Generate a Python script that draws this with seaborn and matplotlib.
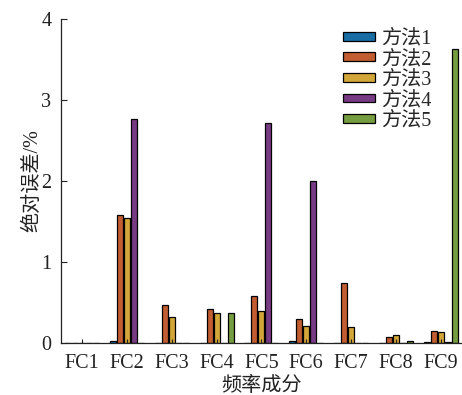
import matplotlib
matplotlib.use("Agg")
import matplotlib.pyplot as plt
import seaborn as sns
import pandas as pd

categories = ["FC1", "FC2", "FC3", "FC4", "FC5", "FC6", "FC7", "FC8", "FC9"]
methods = ["方法1", "方法2", "方法3", "方法4", "方法5"]
m1 = [0.0, 0.02, 0.0, 0.0, 0.0, 0.025, 0.0, 0.0, 0.015]
m2 = [0.0, 1.58, 0.465, 0.42, 0.575, 0.30, 0.74, 0.078, 0.15]
m3 = [0.0, 1.54, 0.325, 0.37, 0.395, 0.215, 0.20, 0.095, 0.13]
m4 = [0.0, 2.77, 0.0, 0.0, 2.72, 2.0, 0.0, 0.0, 0.008]
m5 = [0.0, 0.0, 0.0, 0.375, 0.0, 0.0, 0.0, 0.025, 3.63]
colors = ["#0072BD", "#D95319", "#EDB120", "#7E2F8E", "#77AC30"]
yticks = [0, 1, 2, 3, 4]

rows = []
for name, vals in zip(methods, [m1, m2, m3, m4, m5]):
    for c, v in zip(categories, vals):
        rows.append({"cat": c, "method": name, "val": v})
df = pd.DataFrame(rows)

sns.set_style("ticks")
fam = ["Liberation Serif", "Noto Sans CJK SC"]
plt.rcParams["font.family"] = fam
fs = 14.5

fig = plt.figure(figsize=(4.62, 3.95), dpi=100)
ax = fig.add_axes([61/462, (395-343)/395, 400/462, 324/395])
sns.barplot(data=df, x="cat", y="val", hue="method", order=categories,
            hue_order=methods, palette=colors, width=0.78, gap=0.15,
            edgecolor="black", linewidth=0.9, ax=ax, legend=True)
ax.set_axisbelow(False)
ax.set_xlim(-0.468, 8.45)
ax.set_ylim(0, 4)
ax.set_yticks(yticks)
ax.set_yticklabels([str(t) for t in yticks], fontsize=fs)
ax.set_xticks(range(len(categories)))
ax.set_xticklabels(categories, fontsize=fs)
ax.tick_params(axis="both", direction="in", width=0.8, colors="#222222", labelcolor="#222222")
ax.tick_params(axis="y", length=4.5, pad=7)
ax.tick_params(axis="x", length=3, pad=8)
for s in ["top", "right"]:
    ax.spines[s].set_visible(False)
for s in ["left", "bottom"]:
    ax.spines[s].set_linewidth(0.9)
    ax.spines[s].set_color("#222222")
ax.set_xlabel("频率成分", fontsize=fs, color="#222222", labelpad=3)
ax.set_ylabel("绝对误差/%", fontsize=fs, color="#222222", labelpad=-1)

handles, labels = ax.get_legend_handles_labels()
ax.legend(handles, labels, loc="upper left", bbox_to_anchor=(0.706, 0.968),
          frameon=False, fontsize=fs, handlelength=1.55, handleheight=0.3,
          handletextpad=0.3, labelspacing=0.08, borderpad=0, borderaxespad=0)
fig.savefig("out.png", dpi=100)
